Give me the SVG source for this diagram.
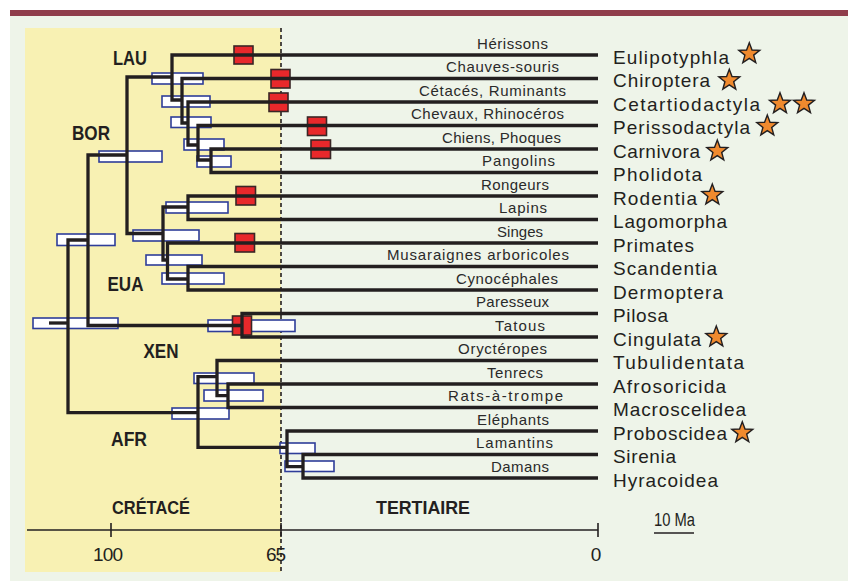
<svg xmlns="http://www.w3.org/2000/svg" xmlns:xlink="http://www.w3.org/1999/xlink" width="848" height="581" viewBox="0 0 848 581">
<style>
.t{font-family:"Liberation Sans",Arial,sans-serif;fill:#231F20}
.ord{font-size:19px}
.com{font-size:15px;fill:#2a2a2a}
.clade{font-size:21px;font-weight:bold}
.per{font-size:19px;font-weight:bold}
.num{font-size:19px}
.ln{fill:none;stroke:#231F20;stroke-width:3.3;stroke-linejoin:miter}
.ci{fill:#fff;stroke:#2E3D99;stroke-width:1.6}
.fos{fill:#E8282B;stroke:#3a2626;stroke-width:1.6}
.star{fill:#F08A2E;stroke:#231F20;stroke-width:1.4;stroke-linejoin:miter}
</style>
<defs>
<path id="star" d="M0,-11 L2.72,-3.74 L10.46,-3.4 L4.39,1.43 L6.47,8.9 L0,4.62 L-6.47,8.9 L-4.39,1.43 L-10.46,-3.4 L-2.72,-3.74 Z"/>
</defs>
<rect x="0" y="0" width="848" height="581" fill="#fff"/>
<rect x="10" y="10" width="838" height="6" fill="#8F3D4B"/>
<rect x="10" y="16" width="838" height="565" fill="#EEF4E9"/>
<rect x="25" y="28" width="256" height="544" fill="#F8F1B3"/>
<line x1="281" y1="28" x2="281" y2="572" stroke="#231F20" stroke-width="1.6" stroke-dasharray="4,3"/>

<g id="axis">
<line x1="27" y1="530" x2="598" y2="530" stroke="#231F20" stroke-width="1.6"/>
<line x1="111" y1="523" x2="111" y2="537" stroke="#231F20" stroke-width="1.6"/>
<line x1="281" y1="523" x2="281" y2="537" stroke="#231F20" stroke-width="1.6"/>
<line x1="598" y1="523" x2="598" y2="537" stroke="#231F20" stroke-width="1.6"/>
<text class="t num" x="108" y="561" text-anchor="middle" textLength="30">100</text>
<text class="t num" x="276" y="561" text-anchor="middle" textLength="20">65</text>
<text class="t num" x="596" y="561" text-anchor="middle">0</text>
<text class="t num" x="654" y="526" textLength="41" lengthAdjust="spacingAndGlyphs">10 Ma</text>
<line x1="654" y1="533" x2="694" y2="533" stroke="#231F20" stroke-width="1.6"/>
<text class="t per" x="112" y="514" textLength="78" lengthAdjust="spacingAndGlyphs">CRÉTACÉ</text>
<text class="t per" x="376" y="514" textLength="94" lengthAdjust="spacingAndGlyphs">TERTIAIRE</text>
</g>

<g id="clades">
<text class="t clade" x="113" y="65" textLength="34" lengthAdjust="spacingAndGlyphs">LAU</text>
<text class="t clade" x="72" y="139.5" textLength="38" lengthAdjust="spacingAndGlyphs">BOR</text>
<text class="t clade" x="107.5" y="290.5" textLength="36" lengthAdjust="spacingAndGlyphs">EUA</text>
<text class="t clade" x="143.5" y="358" textLength="35" lengthAdjust="spacingAndGlyphs">XEN</text>
<text class="t clade" x="111" y="446" textLength="36" lengthAdjust="spacingAndGlyphs">AFR</text>
</g>

<g id="intervals">
<rect class="ci" x="152" y="73" width="51" height="11"/>
<rect class="ci" x="162" y="96" width="48" height="11"/>
<rect class="ci" x="171" y="117" width="40" height="10.5"/>
<rect class="ci" x="184" y="139" width="40" height="11"/>
<rect class="ci" x="197" y="156" width="34" height="11"/>
<rect class="ci" x="99" y="151" width="63" height="11"/>
<rect class="ci" x="166" y="202" width="62" height="11"/>
<rect class="ci" x="133" y="230" width="66" height="11"/>
<rect class="ci" x="146" y="255" width="56" height="10"/>
<rect class="ci" x="162" y="273" width="62" height="11"/>
<rect class="ci" x="208" y="320" width="87" height="11.5"/>
<rect class="ci" x="57" y="234" width="58" height="11.5"/>
<rect class="ci" x="33" y="318" width="85" height="10.5"/>
<rect class="ci" x="194" y="373" width="60" height="10.5"/>
<rect class="ci" x="204" y="390" width="59" height="11"/>
<rect class="ci" x="172" y="408" width="57" height="11"/>
<rect class="ci" x="280" y="443" width="35" height="10.5"/>
<rect class="ci" x="285" y="461" width="49" height="10.5"/>
</g>

<g id="fossils">
<rect class="fos" x="234" y="46" width="19" height="18"/>
<rect class="fos" x="271" y="69.5" width="19" height="18.5"/>
<rect class="fos" x="269" y="93" width="19" height="18.5"/>
<rect class="fos" x="307.5" y="117" width="19" height="18.5"/>
<rect class="fos" x="311" y="140" width="19.5" height="18.5"/>
<rect class="fos" x="236" y="186.5" width="19.5" height="18.5"/>
<rect class="fos" x="235" y="233.5" width="19.5" height="18.5"/>
<rect class="fos" x="232.5" y="316" width="19" height="19"/>
</g>

<g id="connectors">
<path class="ln" d="M598,55 H172 V100 H182"/>
<path class="ln" d="M598,78.5 H182 V123 H188"/>
<path class="ln" d="M598,102 H188 V145 H198"/>
<path class="ln" d="M598,125.5 H198 V160 H211"/>
<path class="ln" d="M598,149 H211 V172.5 H598"/>
<path class="ln" d="M172,77 H127 V233.5 H163"/>
<path class="ln" d="M188,207 H163 V260 H167.5"/>
<path class="ln" d="M598,196 H188 V219.5 H598"/>
<path class="ln" d="M598,243 H167.5 V279 H188"/>
<path class="ln" d="M598,266.5 H188 V290 H598"/>
<path class="ln" d="M127,155 H88 V325.5 H242"/>
<path class="ln" d="M598,313.5 H242 V337 H598"/>
<path class="ln" d="M88,240 H68 V412.7 H198"/>
<path class="ln" d="M49,323 H68"/>
<path class="ln" d="M217,376.7 H198 V447.3 H287"/>
<path class="ln" d="M598,360.5 H217 V395.7 H228"/>
<path class="ln" d="M598,384 H228 V407.5 H598"/>
<path class="ln" d="M598,431 H287 V466.7 H303"/>
<path class="ln" d="M598,454.5 H303 V478 H598"/>
</g>

<g id="eulipotyphla"><text class="t com" x="477" y="48.5" textLength="71">Hérissons</text><text class="t ord" x="613" y="63.5" textLength="116">Eulipotyphla</text><use xlink:href="#star" href="#star" class="star" x="749.3" y="53.7"/></g>
<g id="chiroptera"><text class="t com" x="446" y="72" textLength="113">Chauves-souris</text><text class="t ord" x="613" y="87" textLength="97">Chiroptera</text><use xlink:href="#star" href="#star" class="star" x="729.3" y="80.3"/></g>
<g id="cetartiodactyla"><text class="t com" x="419" y="95.5" textLength="147">Cétacés, Ruminants</text><text class="t ord" x="613" y="110.5" textLength="147">Cetartiodactyla</text><use xlink:href="#star" href="#star" class="star" x="780" y="103.7"/><use xlink:href="#star" href="#star" class="star" x="804" y="103.7"/></g>
<g id="perissodactyla"><text class="t com" x="411" y="119" textLength="153">Chevaux, Rhinocéros</text><text class="t ord" x="613" y="134" textLength="137">Perissodactyla</text><use xlink:href="#star" href="#star" class="star" x="767.3" y="126"/></g>
<g id="carnivora"><text class="t com" x="442" y="142.5" textLength="119">Chiens, Phoques</text><text class="t ord" x="613" y="157.5" textLength="87">Carnivora</text><use xlink:href="#star" href="#star" class="star" x="717.3" y="151"/></g>
<g id="pholidota"><text class="t com" x="482" y="166" textLength="73">Pangolins</text><text class="t ord" x="613" y="181" textLength="89">Pholidota</text></g>
<g id="rodentia"><text class="t com" x="481" y="189.5" textLength="68">Rongeurs</text><text class="t ord" x="613" y="204.5" textLength="84">Rodentia</text><use xlink:href="#star" href="#star" class="star" x="712.3" y="195"/></g>
<g id="lagomorpha"><text class="t com" x="499" y="213" textLength="48">Lapins</text><text class="t ord" x="613" y="228" textLength="114">Lagomorpha</text></g>
<g id="primates"><text class="t com" x="497" y="236.5" textLength="46">Singes</text><text class="t ord" x="613" y="251.5" textLength="81">Primates</text></g>
<g id="scandentia"><text class="t com" x="387" y="260" textLength="182">Musaraignes arboricoles</text><text class="t ord" x="613" y="275" textLength="104">Scandentia</text></g>
<g id="dermoptera"><text class="t com" x="456" y="283.5" textLength="102">Cynocéphales</text><text class="t ord" x="613" y="298.5" textLength="110">Dermoptera</text></g>
<g id="pilosa"><text class="t com" x="476" y="307" textLength="73">Paresseux</text><text class="t ord" x="613" y="322" textLength="55">Pilosa</text></g>
<g id="cingulata"><text class="t com" x="495" y="330.5" textLength="50">Tatous</text><text class="t ord" x="613" y="345.5" textLength="88">Cingulata</text><use xlink:href="#star" href="#star" class="star" x="716.3" y="337"/></g>
<g id="tubulidentata"><text class="t com" x="458" y="354" textLength="89">Oryctéropes</text><text class="t ord" x="613" y="369" textLength="131">Tubulidentata</text></g>
<g id="afrosoricida"><text class="t com" x="487" y="377.5" textLength="56">Tenrecs</text><text class="t ord" x="613" y="392.5" textLength="113">Afrosoricida</text></g>
<g id="macroscelidea"><text class="t com" x="448" y="401" textLength="115">Rats-à-trompe</text><text class="t ord" x="613" y="416" textLength="133">Macroscelidea</text></g>
<g id="proboscidea"><text class="t com" x="477" y="424.5" textLength="72">Eléphants</text><text class="t ord" x="613" y="439.5" textLength="114">Proboscidea</text><use xlink:href="#star" href="#star" class="star" x="742.3" y="432.7"/></g>
<g id="sirenia"><text class="t com" x="476" y="448" textLength="77">Lamantins</text><text class="t ord" x="613" y="463" textLength="63">Sirenia</text></g>
<g id="hyracoidea"><text class="t com" x="491" y="471.5" textLength="58">Damans</text><text class="t ord" x="613" y="486.5" textLength="105">Hyracoidea</text></g>
</svg>
